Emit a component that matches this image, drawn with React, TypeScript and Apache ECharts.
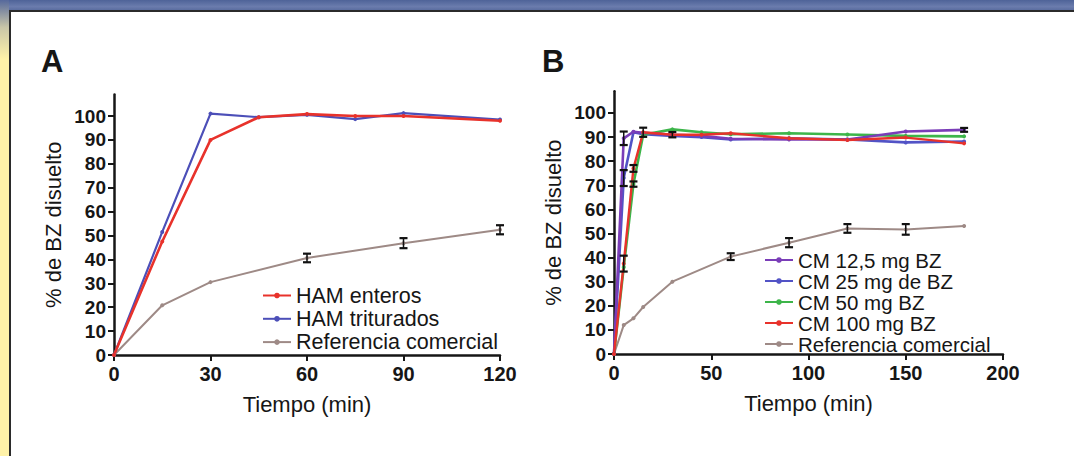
import React, { useEffect, useRef } from "react";
import * as echarts from "echarts";

// ---------- Panel A data ----------
const timeA = [0, 15, 30, 45, 60, 75, 90, 120];
const hamEnteros = [0, 47.5, 90, 99.5, 100.8, 100, 100, 98];
const hamTriturados = [0, 51.5, 101, 99.5, 100.5, 98.7, 101.2, 98.5];
const timeRefA = [0, 15, 30, 60, 90, 120];
const refA = [0, 20.8, 30.5, 40.6, 46.8, 52.4];
const refAErr = [0, 0, 0, 1.8, 2.1, 1.9];

// ---------- Panel B data ----------
const timeB = [0, 5, 10, 15, 30, 45, 60, 90, 120, 150, 180];
const cm12 = [0, 89.5, 92.2, 91.8, 91, 90.5, 89.3, 89, 89, 92.3, 93];
const cm25 = [0, 73, 92, 91.2, 90.5, 90, 89, 89.5, 89, 87.8, 88.2];
const cm50 = [0, 36, 70.5, 91, 93.2, 92, 91.2, 91.6, 91.1, 90.5, 90.3];
const cm100 = [0, 37.5, 77, 92, 91, 91, 91.6, 89.5, 88.8, 89.8, 87.4];
const err12 = [0, 2.8, 0, 0, 0, 0, 0, 0, 0, 0, 0.8];
const err25 = [0, 3.3, 0, 0, 0, 0, 0, 0, 0, 0, 0];
const err50 = [0, 0, 1.1, 0, 0, 0, 0, 0, 0, 0, 0];
const err100 = [0, 3.3, 1.4, 1.9, 1.1, 0, 0, 0, 0, 0, 0];
const timeRefB = [0, 5, 10, 15, 30, 60, 90, 120, 150, 180];
const refB = [0, 12, 14.8, 19.5, 30, 40.4, 46.2, 52.1, 51.7, 53.1];
const refBErr = [0, 0, 0, 0, 0, 1.4, 1.9, 1.8, 2.2, 0];

const yTicks = [0, 10, 20, 30, 40, 50, 60, 70, 80, 90, 100];

const legendA = ["HAM enteros", "HAM triturados", "Referencia comercial"];
const legendB = ["CM 12,5 mg BZ", "CM 25 mg de BZ", "CM 50 mg BZ", "CM 100 mg BZ", "Referencia comercial"];

const FONT = "'Liberation Sans', Arial, Helvetica, sans-serif";
const TXT = "#161616";
const RED = "#e8322b";
const BLUE = "#4c4fb8";
const VIOLET = "#7a3db8";
const BLUE2 = "#5253c6";
const GREEN = "#3db54a";
const GREY = "#9e8a86";

function pairs(xs: number[], ys: number[]) {
  return xs.map((x, i) => [x, ys[i]]);
}

function errItems(xs: number[], ys: number[], es: number[]) {
  const out: number[][] = [];
  xs.forEach((x, i) => {
    if (es[i] > 0) out.push([x, ys[i] - es[i], ys[i] + es[i]]);
  });
  return out;
}

function errSeries(idx: number, items: number[][]) {
  return {
    type: "custom",
    xAxisIndex: idx,
    yAxisIndex: idx,
    z: 5,
    silent: true,
    data: items,
    encode: { x: 0, y: [1, 2] },
    renderItem: (params: any, api: any) => {
      const x = api.value(0);
      const lo = api.value(1);
      const hi = api.value(2);
      const p1 = api.coord([x, hi]);
      const p2 = api.coord([x, lo]);
      const w = 4;
      const st = { stroke: "#111", lineWidth: 2.2 };
      return {
        type: "group",
        children: [
          { type: "line", shape: { x1: p1[0], y1: p1[1], x2: p2[0], y2: p2[1] }, style: { stroke: "#111", lineWidth: 1.5 } },
          { type: "line", shape: { x1: p1[0] - w, y1: p1[1], x2: p1[0] + w, y2: p1[1] }, style: st },
          { type: "line", shape: { x1: p2[0] - w, y1: p2[1], x2: p2[0] + w, y2: p2[1] }, style: st },
        ],
      };
    },
  };
}

function lineSeries(name: string, idx: number, data: number[][], color: string, width = 2.4) {
  return {
    type: "line",
    name,
    xAxisIndex: idx,
    yAxisIndex: idx,
    data,
    symbol: "circle",
    symbolSize: 4,
    itemStyle: { color },
    lineStyle: { color, width },
    z: 3,
  };
}

function xAxis(idx: number, max: number, interval: number) {
  return {
    type: "value",
    gridIndex: idx,
    min: 0,
    max,
    interval,
    axisLine: { show: true, onZero: false, lineStyle: { color: TXT, width: 2.5 } },
    axisTick: { show: true, length: 6, lineStyle: { color: TXT, width: 2 } },
    axisLabel: { fontSize: 20, fontWeight: "bold", color: TXT, fontFamily: FONT, margin: 9 },
    splitLine: { show: false },
    name: "Tiempo (min)",
    nameLocation: "middle",
    nameGap: 38,
    nameTextStyle: { fontSize: 22, color: TXT, fontFamily: FONT },
  };
}

function yAxis(idx: number) {
  return {
    type: "value",
    gridIndex: idx,
    min: 0,
    max: 109,
    axisLine: { show: true, onZero: false, lineStyle: { color: TXT, width: 2.5 } },
    axisTick: { show: true, length: 6, lineStyle: { color: TXT, width: 2 }, customValues: yTicks },
    axisLabel: { fontSize: 19, fontWeight: "bold", color: TXT, fontFamily: FONT, margin: 8, customValues: yTicks },
    splitLine: { show: false },
    name: "% de BZ disuelto",
    nameLocation: "middle",
    nameGap: 50,
    nameTextStyle: { fontSize: 22, color: TXT, fontFamily: FONT },
  };
}

export default function App() {
  const ref = useRef<HTMLDivElement>(null);
  useEffect(() => {
    document.body.style.margin = "0";
    const chart = echarts.init(ref.current!, undefined, { renderer: "svg" });
    const option: any = {
      animation: false,
      backgroundColor: "#ffffff",
      textStyle: { fontFamily: FONT },
      title: [
        { text: "A", left: 36, top: 41, textStyle: { fontSize: 31, fontWeight: "bold", color: TXT, fontFamily: FONT } },
        { text: "B", left: 537, top: 41, textStyle: { fontSize: 31, fontWeight: "bold", color: TXT, fontFamily: FONT } },
      ],
      grid: [
        { left: 114, top: 94.5, width: 386, height: 260.5 },
        { left: 614, top: 91.3, width: 389, height: 262.7 },
      ],
      xAxis: [xAxis(0, 120, 30), xAxis(1, 200, 50)],
      yAxis: [yAxis(0), yAxis(1)],
      legend: [
        {
          orient: "vertical",
          left: 262,
          top: 284.5,
          padding: 0,
          itemWidth: 28,
          itemHeight: 7,
          itemGap: 1.3,
          data: legendA,
          textStyle: { fontSize: 21.5, color: TXT, fontFamily: FONT },
        },
        {
          orient: "vertical",
          left: 764,
          top: 249.5,
          padding: 0,
          itemWidth: 28,
          itemHeight: 7,
          itemGap: 0,
          data: legendB,
          textStyle: { fontSize: 20.5, color: TXT, fontFamily: FONT },
        },
      ],
      graphic: [
        {
          type: "rect",
          shape: { x: 0, y: 0, width: 1074, height: 11 },
          style: {
            fill: new echarts.graphic.LinearGradient(0, 0, 0, 1, [
              { offset: 0, color: "#4e6398" },
              { offset: 0.6, color: "#6b7cad" },
              { offset: 1, color: "#56699c" },
            ]),
          },
          silent: true,
        },
        {
          type: "rect",
          shape: { x: 0, y: 0, width: 9, height: 456 },
          style: {
            fill: new echarts.graphic.LinearGradient(0, 0, 0, 1, [
              { offset: 0, color: "#56699c" },
              { offset: 0.06, color: "#c9c6a8" },
              { offset: 0.13, color: "#fff2a8" },
              { offset: 1, color: "#fff2a8" },
            ]),
          },
          silent: true,
        },
        { type: "line", shape: { x1: 9, y1: 11, x2: 1074, y2: 11 }, style: { stroke: "#2b2b2b", lineWidth: 2 }, silent: true },
        { type: "line", shape: { x1: 10, y1: 10, x2: 10, y2: 456 }, style: { stroke: "#2b2b2b", lineWidth: 2 }, silent: true },
      ],
      series: [
        lineSeries("Referencia comercial", 0, pairs(timeRefA, refA), GREY, 2),
        lineSeries("HAM triturados", 0, pairs(timeA, hamTriturados), BLUE, 2.2),
        lineSeries("HAM enteros", 0, pairs(timeA, hamEnteros), RED, 2.6),
        errSeries(0, errItems(timeRefA, refA, refAErr)),
        lineSeries("Referencia comercial", 1, pairs(timeRefB, refB), GREY, 2),
        lineSeries("CM 25 mg de BZ", 1, pairs(timeB, cm25), BLUE2, 2.6),
        lineSeries("CM 50 mg BZ", 1, pairs(timeB, cm50), GREEN, 2.6),
        lineSeries("CM 12,5 mg BZ", 1, pairs(timeB, cm12), VIOLET, 2.6),
        lineSeries("CM 100 mg BZ", 1, pairs(timeB, cm100), RED, 2.4),
        errSeries(1, errItems(timeRefB, refB, refBErr)),
        errSeries(1, errItems(timeB, cm12, err12)),
        errSeries(1, errItems(timeB, cm25, err25)),
        errSeries(1, errItems(timeB, cm50, err50)),
        errSeries(1, errItems(timeB, cm100, err100)),
      ],
    };
    chart.setOption(option);
    return () => chart.dispose();
  }, []);
  return (
    <div
      ref={ref}
      style={{ position: "absolute", left: 0, top: 0, width: 1074, height: 456, background: "#fff" }}
    />
  );
}
